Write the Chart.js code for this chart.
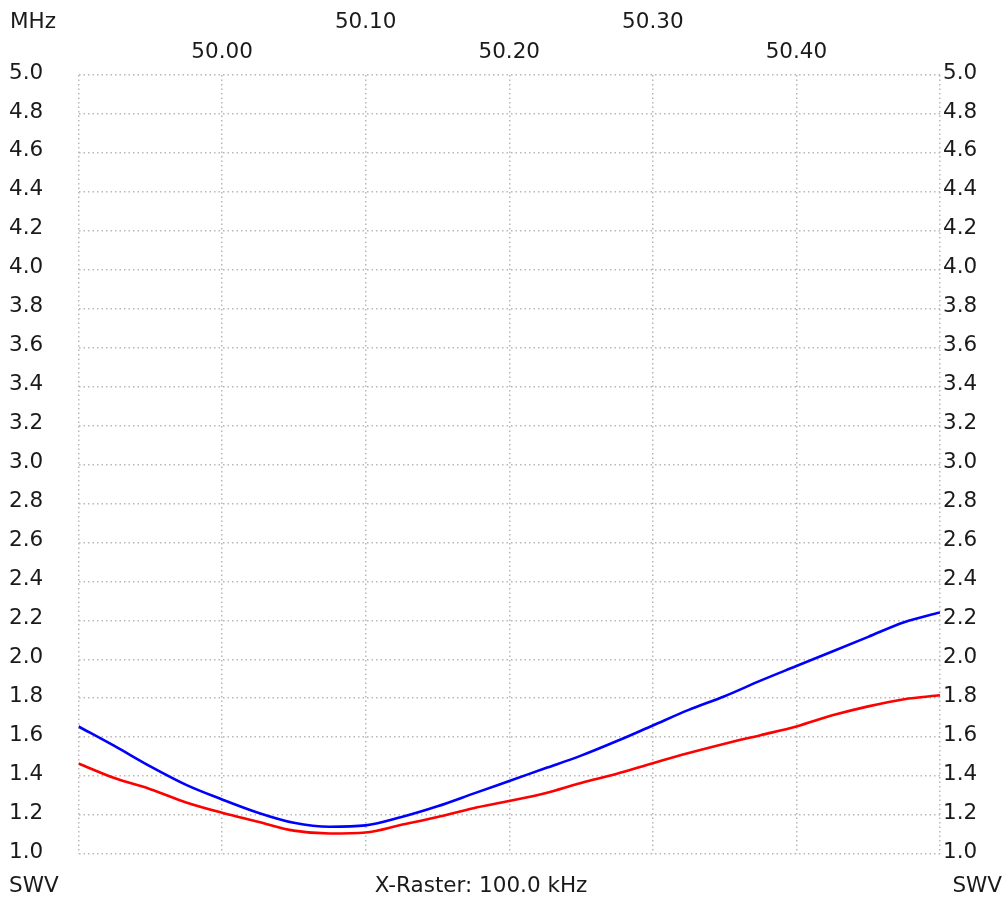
<!DOCTYPE html>
<html>
<head>
<meta charset="utf-8">
<style>
  html, body { margin: 0; padding: 0; background: #fff; }
  #wrap { width: 1005px; height: 902px; }
</style>
<script src="https://cdn.jsdelivr.net/npm/chart.js@4.4.1/dist/chart.umd.min.js"></script>
</head>
<body>
<div id="wrap"><canvas id="swr"></canvas></div>
<script>
// sweep frequencies in MHz
const freqs = [49.900, 49.925, 49.950, 49.975, 50.000, 50.025, 50.050, 50.075, 50.100,
               50.125, 50.150, 50.175, 50.200, 50.225, 50.250, 50.275, 50.300, 50.325,
               50.350, 50.375, 50.400, 50.425, 50.450, 50.475, 50.500];

// SWR trace 1 (blue)
const swrBlue = [1.655, 1.555, 1.450, 1.355, 1.280, 1.212, 1.160, 1.140, 1.147,
                 1.190, 1.245, 1.310, 1.375, 1.440, 1.505, 1.580, 1.660, 1.740,
                 1.810, 1.890, 1.965, 2.040, 2.115, 2.190, 2.240];

// SWR trace 2 (red)
const swrRed = [1.465, 1.390, 1.333, 1.265, 1.212, 1.166, 1.120, 1.105, 1.110,
                1.150, 1.190, 1.235, 1.272, 1.312, 1.365, 1.412, 1.466, 1.518,
                1.566, 1.610, 1.655, 1.712, 1.758, 1.795, 1.815];

// labelled frequency marks on top (two staggered rows)
const xTickValues = [50.00, 50.10, 50.20, 50.30, 50.40];
const xTickLabels = ['50.00', '50.10', '50.20', '50.30', '50.40'];

const FONT = '21.5px "DejaVu Sans"';
const TEXT = '#1a1a1a';
const GRID = '#b8b8b8';

function toPoints(ys) {
    return freqs.map((f, i) => ({ x: f, y: ys[i] }));
}

// draws the captions the analyser puts around the plot
const captions = {
    id: 'captions',
    afterDraw(chart) {
        const ctx = chart.ctx;
        const xs = chart.scales.x;
        ctx.save();
        ctx.font = FONT;
        ctx.fillStyle = TEXT;
        ctx.textBaseline = 'middle';

        ctx.textAlign = 'left';
        ctx.fillText('MHz', 10, 22);
        ctx.fillText('SWV', 9, 886);

        ctx.textAlign = 'center';
        xTickValues.forEach((v, i) => {
            const row = (i % 2 === 1) ? 22 : 52;
            ctx.fillText(xTickLabels[i], xs.getPixelForValue(v), row);
        });
        ctx.fillText('X-Raster: 100.0 kHz', 481, 886);

        ctx.textAlign = 'right';
        ctx.fillText('SWV', 1002, 886);
        ctx.restore();
    }
};

const tickFont = { family: 'DejaVu Sans', size: 21.5 };

new Chart(document.getElementById('swr'), {
    type: 'line',
    data: {
        datasets: [{
            label: 'SWV 1',
            data: toPoints(swrBlue),
            borderColor: '#0000ff',
            borderWidth: 2.6,
            pointRadius: 0,
            cubicInterpolationMode: 'monotone',
            yAxisID: 'y'
        }, {
            label: 'SWV 2',
            data: toPoints(swrRed),
            borderColor: '#ff0000',
            borderWidth: 2.6,
            pointRadius: 0,
            cubicInterpolationMode: 'monotone',
            yAxisID: 'y'
        }]
    },
    options: {
        responsive: true,
        maintainAspectRatio: false,
        animation: false,
        layout: { padding: { left: 9, right: 0, top: 75, bottom: 48 } },
        plugins: { legend: { display: false }, tooltip: { enabled: false } },
        scales: {
            x: {
                type: 'linear',
                min: 49.9,
                max: 50.5,
                ticks: { display: false, stepSize: 0.1 },
                grid: { color: GRID, lineWidth: 1.5, drawTicks: false },
                border: { display: false, dash: [1.5, 3] }
            },
            y: {
                position: 'left',
                min: 1.0,
                max: 5.0,
                afterFit(scale) { scale.width = 69.5; },
                ticks: {
                    stepSize: 0.2,
                    crossAlign: 'far',
                    labelOffset: -2,
                    color: TEXT,
                    font: tickFont,
                    callback: v => v.toFixed(1)
                },
                grid: { color: GRID, lineWidth: 1.5, drawTicks: false },
                border: { display: false, dash: [1.5, 3] }
            },
            y2: {
                position: 'right',
                min: 1.0,
                max: 5.0,
                afterFit(scale) { scale.width = 65; },
                ticks: {
                    stepSize: 0.2,
                    padding: 3,
                    labelOffset: -2,
                    color: TEXT,
                    font: tickFont,
                    callback: v => v.toFixed(1)
                },
                grid: { display: false, drawTicks: false },
                border: { display: false }
            }
        }
    },
    plugins: [captions]
});
</script>
</body>
</html>
